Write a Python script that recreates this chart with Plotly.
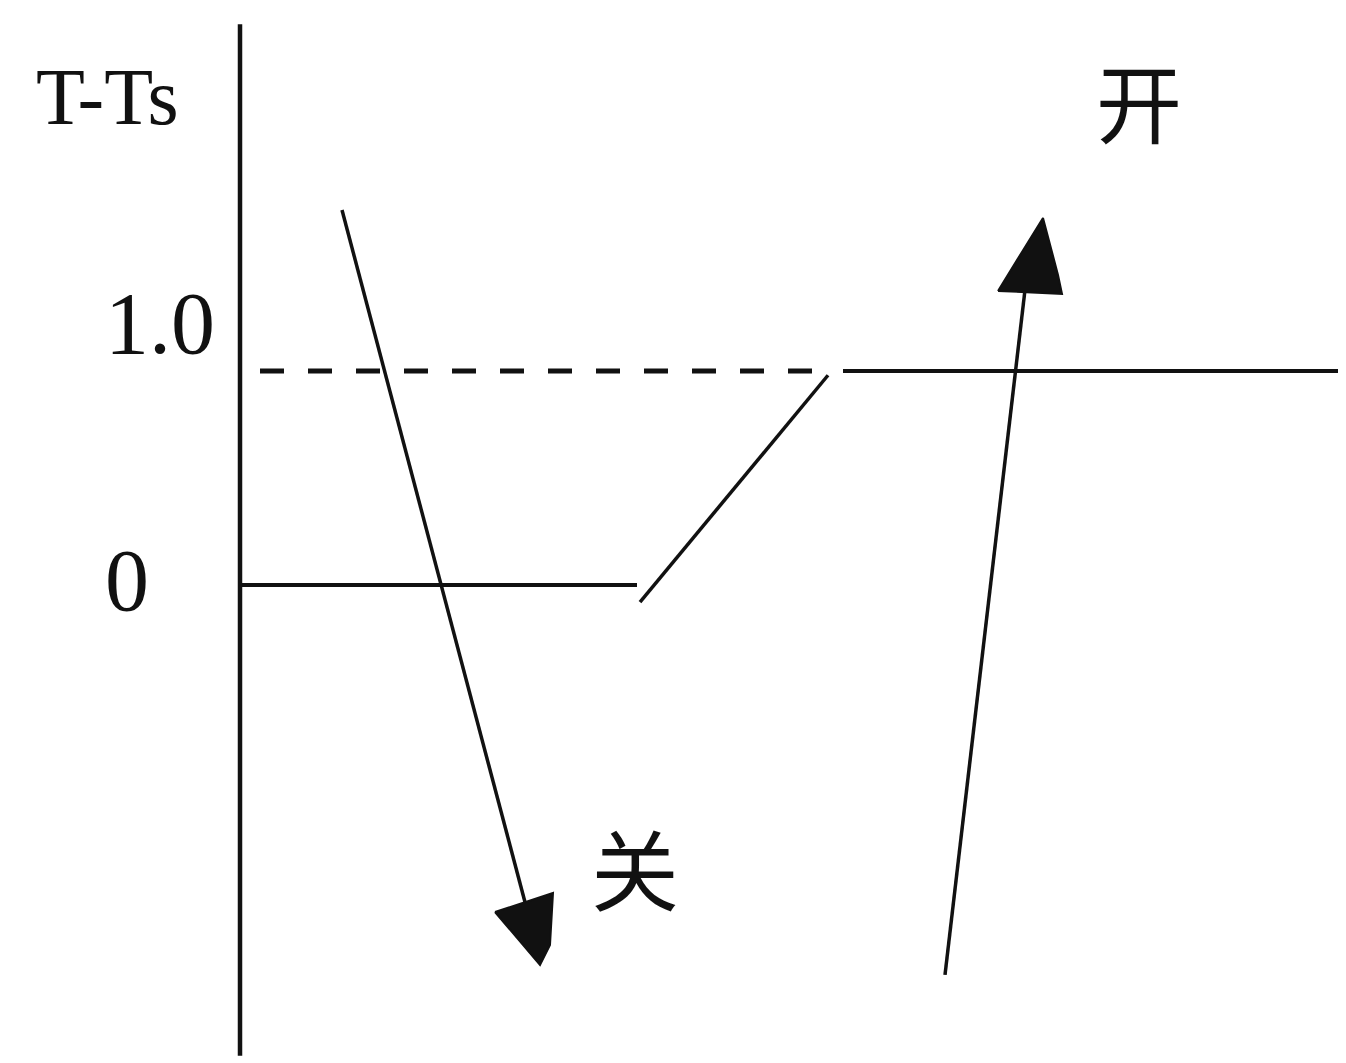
import plotly.graph_objects as go

# Diagram data (x: time-like units, y: T-Ts units)
axis_x = [0.0, 0.0]
axis_y = [2.62, -2.20]

base_x = [0.0, 3.97]
base_y = [0.0, 0.0]

ramp_x = [4.00, 5.88]
ramp_y = [-0.08, 0.98]

upper_x = [6.03, 11.14]
upper_y = [1.0, 1.0]

dash_x = [0.20, 5.85]
dash_y = [1.0, 1.0]

down_shaft_x = [1.02, 2.95]
down_shaft_y = [1.752, -1.659]
down_head_x = [2.55, 3.13, 3.10, 3.00, 2.55]
down_head_y = [-1.528, -1.439, -1.682, -1.776, -1.528]

up_shaft_x = [7.05, 7.85]
up_shaft_y = [-1.822, 1.379]
up_head_x = [7.58, 8.22, 8.18, 8.03, 7.58]
up_head_y = [1.374, 1.360, 1.449, 1.715, 1.374]

labels = ["T-Ts", "1.0", "0", "开", "关"]
label_x = [-1.33, -0.80, -1.13, 8.99, 3.95]
label_y = [2.28, 1.22, 0.02, 2.27, -1.31]

INK = "#111111"
fig = go.Figure()

def line(x, y, width=4, dash=None):
    fig.add_trace(go.Scatter(x=x, y=y, mode="lines",
                             line=dict(color=INK, width=width, dash=dash),
                             hoverinfo="skip", showlegend=False))

def head(x, y):
    fig.add_trace(go.Scatter(x=x, y=y, mode="lines", fill="toself",
                             fillcolor=INK, line=dict(color=INK, width=2),
                             hoverinfo="skip", showlegend=False))

line(axis_x, axis_y, width=4.5)
line(base_x, base_y)
line(ramp_x, ramp_y, width=3.5)
line(upper_x, upper_y)
line(dash_x, dash_y, width=5, dash="24px,24px")
line(down_shaft_x, down_shaft_y, width=3.5)
head(down_head_x, down_head_y)
line(up_shaft_x, up_shaft_y, width=3.5)
head(up_head_x, up_head_y)

fonts = [
    dict(family="Liberation Serif", size=80, color=INK),
    dict(family="Liberation Serif", size=88, color=INK),
    dict(family="Liberation Serif", size=88, color=INK),
    dict(family="Noto Sans CJK SC", size=86, color=INK),
    dict(family="Noto Sans CJK SC", size=88, color=INK),
]
for t, x, y, f in zip(labels, label_x, label_y, fonts):
    fig.add_annotation(x=x, y=y, text=t, showarrow=False, font=f,
                       xanchor="center", yanchor="middle")

fig.update_layout(
    width=1346, height=1063,
    margin=dict(l=0, r=0, t=0, b=0),
    paper_bgcolor="white", plot_bgcolor="white",
    xaxis=dict(range=[-2.32, 11.14], visible=False, fixedrange=True),
    yaxis=dict(range=[-2.271, 2.696], visible=False, fixedrange=True),
)

fig.write_html("out.html")
